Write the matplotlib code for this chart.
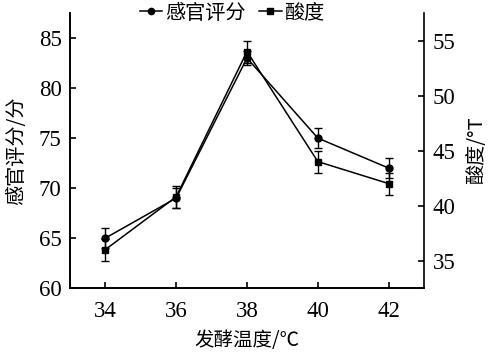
import matplotlib.pyplot as plt
from matplotlib.lines import Line2D

# 数据
temp = [34, 36, 38, 40, 42]
score = [65, 69, 83, 75, 72]
score_err = [1.0, 1.0, 0.7, 1.0, 1.0]
acid = [36, 40.8, 54, 44, 42]
acid_err = [1.0, 1.0, 1.0, 1.0, 1.0]
score_ticks = [60, 65, 70, 75, 80, 85]
acid_ticks = [35, 40, 45, 50, 55]

serif = ['Liberation Serif', 'DejaVu Serif']
cjk = ['Noto Sans CJK SC', 'Liberation Serif']
plt.rcParams['font.family'] = ['Liberation Serif', 'Noto Sans CJK SC']

fig = plt.figure(figsize=(4.92, 3.62), dpi=100)
ax = fig.add_axes([0.142, 0.204, 0.72, 0.76])
ax2 = ax.twinx()

# 感官评分(左轴) 和 酸度(右轴)
ax.errorbar(temp, score, yerr=score_err, color='black', marker='o', markersize=5,
            linewidth=1.1, capsize=3, elinewidth=1, capthick=1)
ax2.errorbar(temp, acid, yerr=acid_err, color='black', marker='s', markersize=4.5,
             linewidth=1.1, capsize=3, elinewidth=1, capthick=1)

ax.set_xlim(33, 43)
ax.set_ylim(60, 87.5)
ax2.set_ylim(32.5, 57.5)
ax.set_xticks(temp, labels=[str(t) for t in temp], fontfamily=serif, fontsize=16.5)
ax.set_yticks(score_ticks, labels=[str(t) for t in score_ticks], fontfamily=serif, fontsize=16.5)
ax2.set_yticks(acid_ticks, labels=[str(t) for t in acid_ticks], fontfamily=serif, fontsize=16.5)

for a in (ax, ax2):
    a.spines['top'].set_visible(False)
    for s in a.spines.values():
        s.set_linewidth(1.2)
    a.tick_params(direction='in', length=4, width=1.2)
ax.spines['right'].set_visible(False)
ax.tick_params(axis='x', pad=9)
ax.tick_params(axis='y', pad=6)
ax2.tick_params(axis='y', pad=6)

ax.set_xlabel('发酵温度/℃', family=cjk, fontsize=14, labelpad=6)
ax.set_ylabel('感官评分/分', family=cjk, fontsize=14.5, labelpad=8)
ax2.set_ylabel('酸度/°T', family=cjk, fontsize=14.5, labelpad=8)

# 图例
handles = [Line2D([], [], color='black', marker='o', markersize=4.5, linewidth=1.1),
           Line2D([], [], color='black', marker='s', markersize=4, linewidth=1.1)]
fig.legend(handles, ['感官评分', '酸度'], loc='center', bbox_to_anchor=(0.472, 0.964),
           ncol=2, frameon=False, handlelength=1.1, handletextpad=0.15,
           columnspacing=0.7, prop={'family': cjk, 'size': 14.5}, borderpad=0)

fig.savefig('out.png', dpi=100)
